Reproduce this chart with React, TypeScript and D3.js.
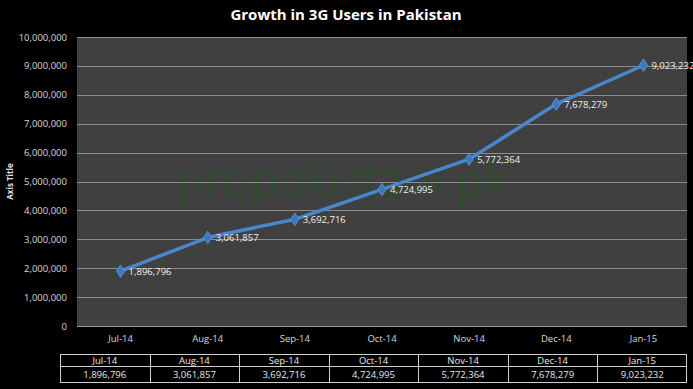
import React, { useEffect, useRef } from 'react';
import * as d3 from 'd3';

const months = ['Jul-14', 'Aug-14', 'Sep-14', 'Oct-14', 'Nov-14', 'Dec-14', 'Jan-15'];
const users = [1896796, 3061857, 3692716, 4724995, 5772364, 7678279, 9023232];
const yTicks = [0, 1000000, 2000000, 3000000, 4000000, 5000000, 6000000, 7000000, 8000000, 9000000, 10000000];

const W = 693;
const H = 389;
const fmt = d3.format(',');
const FONT = "'Open Sans', 'DejaVu Sans', sans-serif";

export default function App() {
    const ref = useRef<SVGSVGElement>(null);

    useEffect(() => {
        const svg = d3.select(ref.current);
        svg.selectAll('*').remove();

        const plot = { left: 77, top: 37, right: 687, bottom: 326 };

        svg.append('rect').attr('width', W).attr('height', H).attr('fill', '#000');

        const x = d3.scaleBand().domain(months).range([plot.left, plot.right]);
        const y = d3.scaleLinear().domain([0, 10000000]).range([plot.bottom, plot.top]);

        svg.append('rect')
            .attr('x', plot.left).attr('y', plot.top)
            .attr('width', plot.right - plot.left).attr('height', plot.bottom - plot.top)
            .attr('fill', '#404040');

        // watermark, behind the gridlines
        svg.append('text')
            .attr('x', 342).attr('y', 197).attr('text-anchor', 'middle')
            .style('font-family', FONT).style('font-size', '46px')
            .attr('fill', '#245224').attr('fill-opacity', 0.55)
            .text('propakistani.pk');

        // gridlines
        svg.append('g').selectAll('line').data(yTicks).join('line')
            .attr('x1', plot.left).attr('x2', plot.right)
            .attr('y1', d => Math.round(y(d)) + 0.5).attr('y2', d => Math.round(y(d)) + 0.5)
            .attr('stroke', d => d === 0 ? '#9a9a9a' : '#8c8c8c').attr('stroke-width', 1);

        // y labels
        svg.append('g').selectAll('text').data(yTicks).join('text')
            .attr('x', plot.left - 10).attr('y', d => y(d) + 3.5)
            .attr('text-anchor', 'end')
            .style('font-family', FONT).style('font-size', '9.5px').attr('fill', '#d8d8d8')
            .text(d => fmt(d));

        svg.append('text')
            .attr('transform', `translate(13,${(plot.top + plot.bottom) / 2}) rotate(-90)`)
            .attr('text-anchor', 'middle')
            .style('font-family', FONT).style('font-size', '8px').style('font-weight', 'bold')
            .attr('fill', '#e0e0e0').text('Axis Title');

        // x labels
        svg.append('g').selectAll('text').data(months).join('text')
            .attr('x', d => x(d)! + x.bandwidth() / 2).attr('y', 342)
            .attr('text-anchor', 'middle')
            .style('font-family', FONT).style('font-size', '9.5px').attr('fill', '#d8d8d8')
            .text(d => d);

        // title
        svg.append('text')
            .attr('x', 346).attr('y', 20).attr('text-anchor', 'middle')
            .style('font-family', FONT).style('font-size', '15px').style('font-weight', 'bold')
            .attr('fill', '#fff').text('Growth in 3G Users in Pakistan');

        const cx = (i: number) => x(months[i])! + x.bandwidth() / 2;

        const line = d3.line<number>().x((d, i) => cx(i)).y(d => y(d));
        svg.append('path').datum(users)
            .attr('d', line).attr('fill', 'none')
            .attr('stroke', '#4a86cc').attr('stroke-width', 3.5)
            .attr('stroke-linejoin', 'round');

        svg.append('g').selectAll('path').data(users).join('path')
            .attr('d', d3.symbol().type(d3.symbolDiamond).size(45))
            .attr('transform', (d, i) => `translate(${cx(i)},${y(d)}) scale(1.15,1)`)
            .attr('fill', '#3d77be').attr('stroke', '#5a95dc').attr('stroke-width', 0.8);

        svg.append('g').selectAll('text').data(users).join('text')
            .attr('x', (d, i) => cx(i) + 8).attr('y', d => y(d) + 3.5)
            .style('font-family', FONT).style('font-size', '9.5px').attr('fill', '#f0f0f0')
            .text(d => fmt(d));

        // data table
        const tx = d3.scaleBand().domain(months).range([60, 687]);
        const tTop = 354, tMid = 366, tBot = 382;
        const tbl = svg.append('g');
        tbl.append('rect').attr('x', 60.5).attr('y', tTop + 0.5).attr('width', 626).attr('height', tBot - tTop)
            .attr('fill', 'none').attr('stroke', '#d0d0d0').attr('stroke-width', 1);
        tbl.append('line').attr('x1', 60).attr('x2', 687).attr('y1', tMid + 0.5).attr('y2', tMid + 0.5)
            .attr('stroke', '#d0d0d0');
        tbl.selectAll('line.v').data(months.slice(1)).join('line').attr('class', 'v')
            .attr('x1', d => Math.round(tx(d)!) + 0.5).attr('x2', d => Math.round(tx(d)!) + 0.5)
            .attr('y1', tTop).attr('y2', tBot)
            .attr('stroke', '#d0d0d0');
        tbl.selectAll('text.m').data(months).join('text').attr('class', 'm')
            .attr('x', d => tx(d)! + tx.bandwidth() / 2).attr('y', tMid - 2.5)
            .attr('text-anchor', 'middle')
            .style('font-family', FONT).style('font-size', '9.5px').attr('fill', '#e8e8e8')
            .text(d => d);
        tbl.selectAll('text.v').data(users).join('text').attr('class', 'v')
            .attr('x', (d, i) => tx(months[i])! + tx.bandwidth() / 2).attr('y', tBot - 4)
            .attr('text-anchor', 'middle')
            .style('font-family', FONT).style('font-size', '9.5px').attr('fill', '#e8e8e8')
            .text(d => fmt(d));
    }, []);

    return (
        <svg ref={ref} width={W} height={H} style={{ position: 'absolute', left: 0, top: 0, display: 'block' }} />
    );
}
